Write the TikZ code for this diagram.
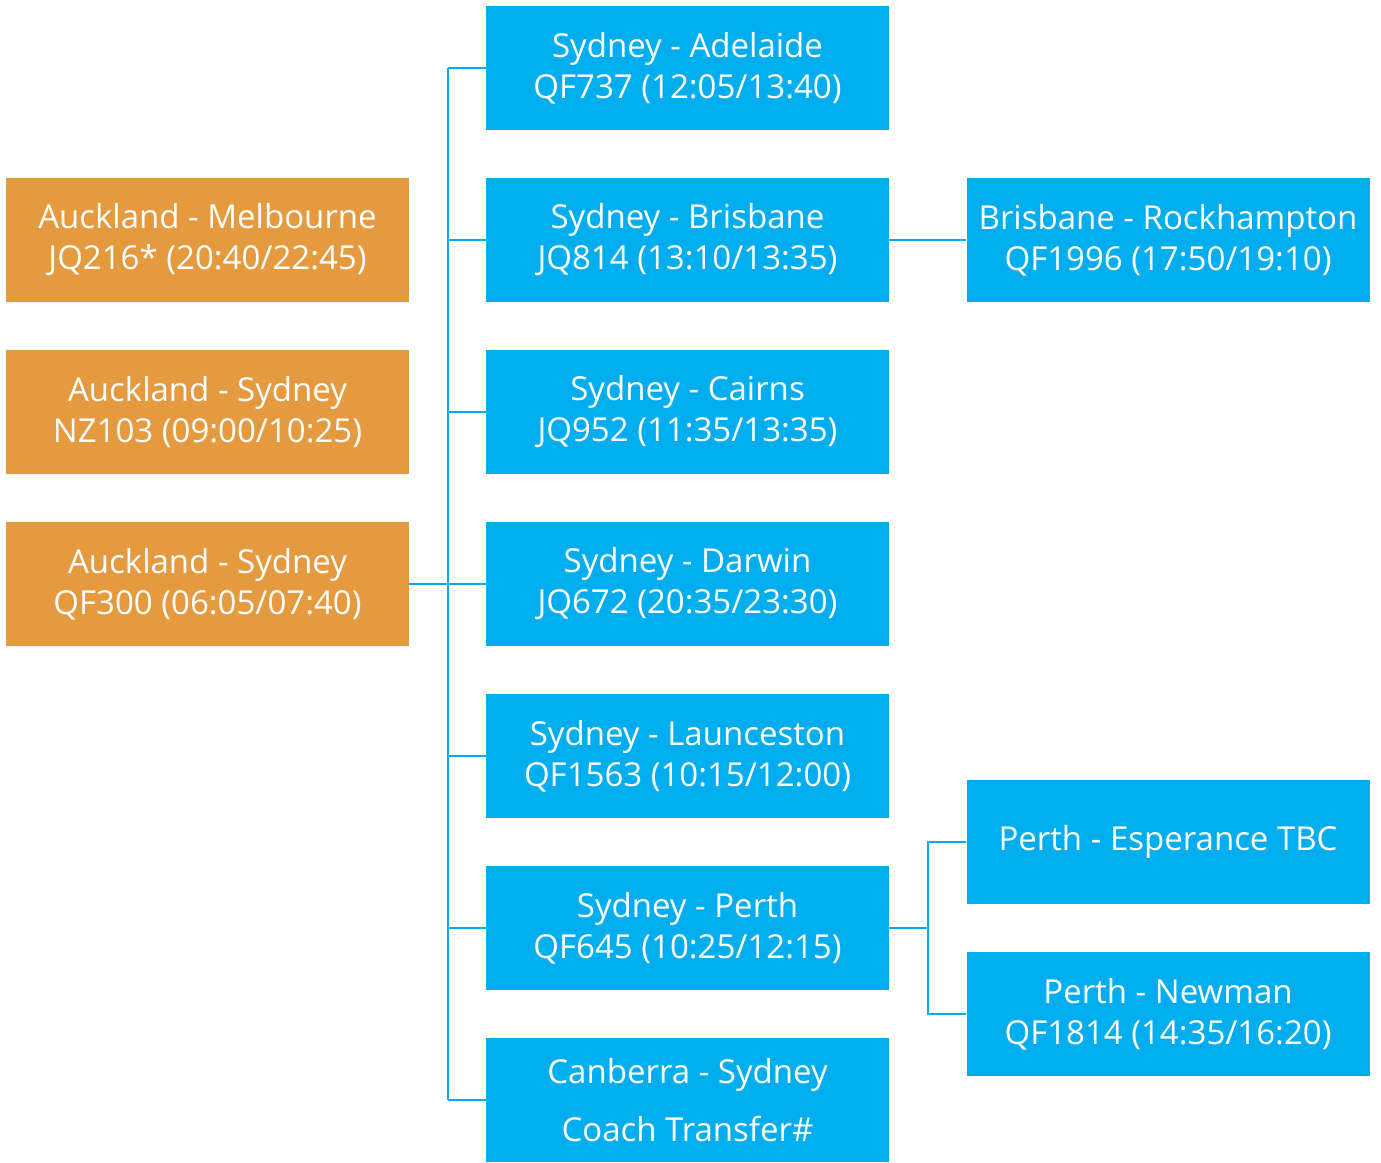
\documentclass[tikz,border=0pt]{standalone}
\usepackage{fontspec}
\setmainfont{Open Sans}
\usepackage{tikz}
\usetikzlibrary{calc}

\definecolor{flightblue}{HTML}{00AEEF}
\definecolor{flightorange}{HTML}{E59A3F}

\begin{document}
\begin{tikzpicture}[x=1pt,y=-1pt,
    legbox/.style={rectangle, minimum width=403pt, minimum height=124pt, inner sep=0pt,
        text=white, align=center, font=\fontsize{33}{41}\selectfont},
    bluebox/.style={legbox, fill=flightblue},
    orangebox/.style={legbox, fill=flightorange},
    link/.style={draw=flightblue, line width=2.8pt}]
            % Define the column centres and the row pitch
            \def\colA{207.5}  % orange column
            \def\colB{687.5}  % middle column
            \def\colC{1168}   % right column
            \def\busx{448}    % main bus line
            \def\perx{928}    % Perth bracket

            \useasboundingbox (0,0) rectangle (1381,1162);

            % Arrivals into Sydney
            \node[orangebox] (akl-mel) at (\colA,240) {Auckland - Melbourne\\JQ216* (20:40/22:45)};
            \node[orangebox] (akl-syd1) at (\colA,412) {Auckland - Sydney\\NZ103 (09:00/10:25)};
            \node[orangebox] (akl-syd2) at (\colA,584) {Auckland - Sydney\\QF300 (06:05/07:40)};

            % Onward domestic legs
            \node[bluebox] (syd-adl) at (\colB,68) {Sydney - Adelaide\\QF737 (12:05/13:40)};
            \node[bluebox] (syd-bne) at (\colB,240) {Sydney - Brisbane\\JQ814 (13:10/13:35)};
            \node[bluebox] (syd-cns) at (\colB,412) {Sydney - Cairns\\JQ952 (11:35/13:35)};
            \node[bluebox] (syd-drw) at (\colB,584) {Sydney - Darwin\\JQ672 (20:35/23:30)};
            \node[bluebox] (syd-lst) at (\colB,756) {Sydney - Launceston\\QF1563 (10:15/12:00)};
            \node[bluebox] (syd-per) at (\colB,928) {Sydney - Perth\\QF645 (10:25/12:15)};
            \node[bluebox] (cbr-syd) at (\colB,1100) {Canberra - Sydney\\[17pt]Coach Transfer\#};

            % Third legs
            \node[bluebox] (bne-rok) at (\colC,240) {Brisbane - Rockhampton\\QF1996 (17:50/19:10)};
            \node[bluebox] (per-epr) at (\colC,842) {Perth - Esperance TBC};
            \node[bluebox] (per-nwm) at (\colC,1014) {Perth - Newman\\QF1814 (14:35/16:20)};

            % Bus line from QF300 to the domestic legs
            \coordinate (bus-top) at (\busx,68);
            \coordinate (bus-bot) at (\busx,1100);
            \draw[link] (bus-top) -- (bus-bot);
            \draw[link] (akl-syd2.east) -- (syd-drw.west);
            \foreach \leg in {syd-adl,syd-bne,syd-cns,syd-lst,syd-per,cbr-syd}
                \draw[link] (\leg.west) -- (bus-top |- \leg.west);

            % Brisbane connection
            \draw[link] (syd-bne.east) -- (bne-rok.west);

            % Perth bracket
            \coordinate (per-mid) at (\perx,928);
            \draw[link] (syd-per.east) -- (per-mid);
            \draw[link] (per-epr.west) -| (per-mid) |- (per-nwm.west);
\end{tikzpicture}
\end{document}
